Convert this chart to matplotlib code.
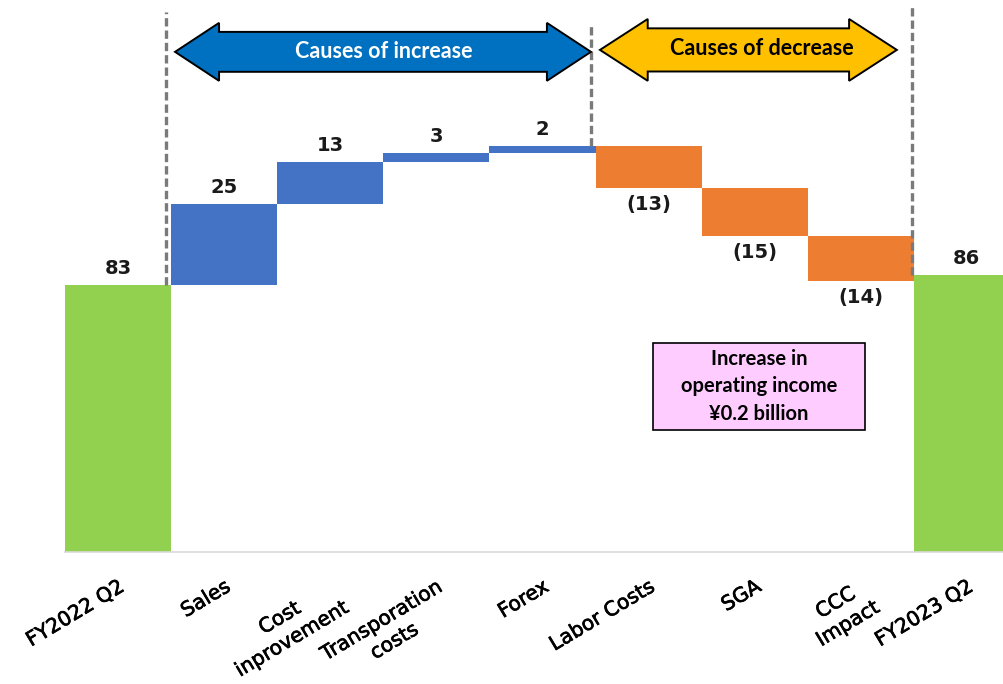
"""
Operating income bridge FY2022 Q2 -> FY2023 Q2 (waterfall chart).
"""
import numpy as np
import matplotlib
matplotlib.use('Agg')
import matplotlib.pyplot as plt
import matplotlib.patheffects as pe
from matplotlib.patches import Polygon, Rectangle

# --- data ---
categories = ['FY2022 Q2', 'Sales', 'Cost\ninprovement', 'Transporation\ncosts',
              'Forex', 'Labor Costs', 'SGA', 'CCC\nImpact', 'FY2023 Q2']
start_value = 83
end_value = 86
changes = [25, 13, 3, 2, -13, -15, -14]

GREEN = '#92D050'
BLUE = '#4472C4'
ORANGE = '#ED7D31'
NUM_FONT = 'DejaVu Sans'
BOX_FONT = 'Lato'


def double_arrow(ax, x0, x1, yc, shaft_h, head_h, head_len, color):
    """Block double-headed arrow in data coordinates."""
    pts = [(x0, yc),
           (x0 + head_len, yc + head_h),
           (x0 + head_len, yc + shaft_h),
           (x1 - head_len, yc + shaft_h),
           (x1 - head_len, yc + head_h),
           (x1, yc),
           (x1 - head_len, yc - head_h),
           (x1 - head_len, yc - shaft_h),
           (x0 + head_len, yc - shaft_h),
           (x0 + head_len, yc - head_h)]
    ax.add_patch(Polygon(pts, closed=True, facecolor=color, edgecolor='black',
                         linewidth=1.4, zorder=5))


fig = plt.figure(figsize=(10.04, 6.84), dpi=100)
ax = fig.add_axes([65 / 1004, 132 / 684, 939 / 1004, 552 / 684])
ax.set_xlim(-0.5, 8.35)
ax.set_ylim(0, 171.4)

x = np.arange(len(categories))

# compute waterfall bottoms/heights
running = start_value
bottoms, heights, colors, levels = [], [], [], []
for c in changes:
    if c >= 0:
        bottoms.append(running)
        heights.append(c)
        colors.append(BLUE)
    else:
        bottoms.append(running + c)
        heights.append(-c)
        colors.append(ORANGE)
    running += c
    levels.append(running)

ax.bar(x[0], start_value, width=1.0, color=GREEN, zorder=2)
ax.bar(x[1:-1], heights, bottom=bottoms, width=1.0, color=colors, zorder=2)
ax.bar(x[-1], end_value, width=1.0, color=GREEN, zorder=2)

# value labels
lab_kw = dict(ha='center', fontsize=14, fontweight='bold', family=NUM_FONT,
              color='#1a1a1a', textcoords='offset points')
ax.annotate(str(start_value), (x[0], start_value), xytext=(0, 5), va='bottom', **lab_kw)
ax.annotate(str(end_value), (x[-1], end_value), xytext=(0, 5), va='bottom', **lab_kw)
for xi, b, h, c in zip(x[1:-1], bottoms, heights, changes):
    if c >= 0:
        ax.annotate(str(c), (xi, b + h), xytext=(0, 5), va='bottom', **lab_kw)
    else:
        ax.annotate(f'({-c})', (xi, b), xytext=(0, -5), va='top', **lab_kw)

# dashed separators
sep_x = [0.45, 4.46, 7.48]
sep_bottom = [start_value, levels[3], end_value]
sep_top = [167.7, 164.3, 169.9]
for sx, yb, yt in zip(sep_x, sep_bottom, sep_top):
    ax.plot([sx, sx], [yb, yt], color='#7a7a7a', linewidth=2.4,
            linestyle=(0, (2.5, 1.2)), zorder=4, solid_capstyle='butt')

# arrows
double_arrow(ax, 0.537, 4.457, 155.3, 6.2, 9.0, 0.415, '#0070C0')
ax.text(2.50, 155.5, 'Causes of increase', ha='center', va='center', color='white',
        fontsize=15.5, fontweight='bold', family=BOX_FONT, zorder=6)
double_arrow(ax, 4.542, 7.34, 155.9, 6.7, 9.6, 0.45, '#FFC000')
ax.text(6.07, 156.2, 'Causes of decrease', ha='center', va='center', color='black',
        fontsize=15.5, fontweight='bold', family=BOX_FONT, zorder=6)

# summary box
ax.add_patch(Rectangle((5.04, 37.9), 2.0, 27.0, facecolor='#FFCCFF',
                       edgecolor='black', linewidth=1.2, zorder=5))
ax.text(6.04, 51.4, 'Increase in\noperating income\n\u00a50.2 billion', ha='center',
        va='center', fontsize=14.5, fontweight='bold', family=BOX_FONT,
        linespacing=1.45, zorder=6)

# axes styling
for s in ['top', 'right', 'left']:
    ax.spines[s].set_visible(False)
ax.spines['bottom'].set_color('#d9d9d9')
ax.spines['bottom'].set_linewidth(1.2)
ax.set_yticks([])
ax.set_xticks(x)
ax.set_xticklabels(categories, rotation=31, ha='right', rotation_mode='anchor',
                   fontsize=14.5, family=NUM_FONT, multialignment='center',
                   linespacing=1.35)
for lbl in ax.get_xticklabels():
    lbl.set_path_effects([pe.withStroke(linewidth=0.5, foreground='black')])
ax.tick_params(axis='x', length=0, pad=18)

plt.savefig('out.png', dpi=100)
